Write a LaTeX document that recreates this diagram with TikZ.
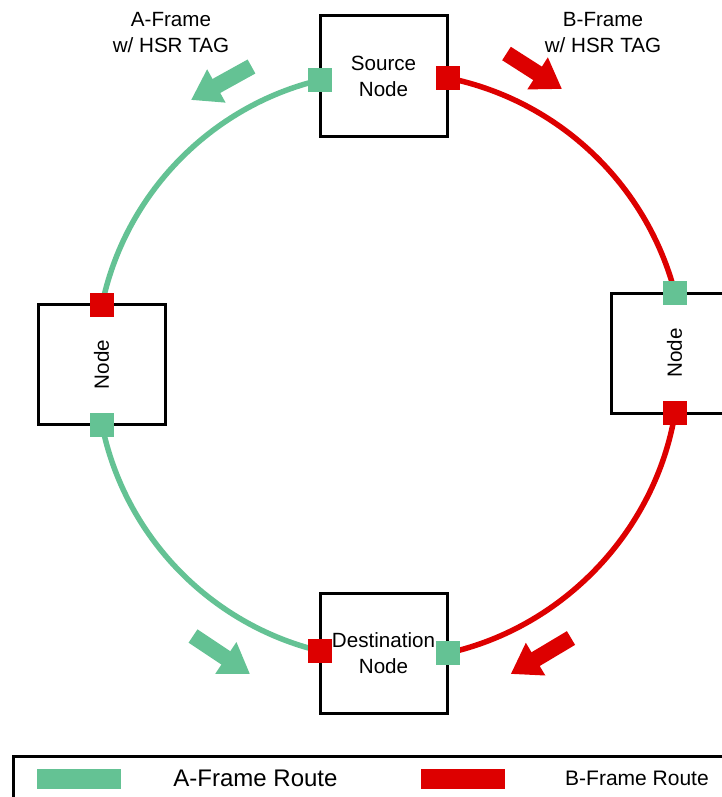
\documentclass[tikz,border=0pt]{standalone}
\usepackage{fontspec}
\setmainfont{Liberation Sans}
\usetikzlibrary{arrows.meta}
\definecolor{agreen}{RGB}{100,194,148}
\definecolor{bred}{RGB}{221,0,0}
\begin{document}
\begin{tikzpicture}[x=1pt,y=1pt,
  box/.style={draw=black, line width=3pt, fill=white, minimum width=127pt, minimum height=120pt, inner sep=0pt, align=center, font=\fontsize{20.6}{26}\selectfont},
  gport/.style={fill=agreen, minimum size=24pt, inner sep=0pt},
  rport/.style={fill=bred, minimum size=24pt, inner sep=0pt},
  garc/.style={draw=agreen, line width=5.5pt, looseness=0.92},
  rarc/.style={draw=bred, line width=5.5pt, looseness=0.92},
  blockarrow/.style={line width=16pt, -{Triangle[length=29pt,width=36pt]}},
  lbl/.style={font=\fontsize{20.6}{26}\selectfont, align=center, inner sep=0pt}
]
\useasboundingbox (0,-797) rectangle (722,0);
\clip (0,-797) rectangle (722,0);

% boxes
\node[box] (src) at (383.5,-76) {Source\\Node};
\node[box] (dst) at (383.5,-653) {Destination\\Node};
\node[box, rotate=90, minimum width=120pt, minimum height=127pt] (lnode) at (101.5,-364.5) {Node};
\node[box, rotate=90, minimum width=120pt, minimum height=127pt] (rnode) at (674.5,-353) {Node};

% port positions
\coordinate (sG) at (320,-80);
\coordinate (sR) at (448,-78);
\coordinate (lR) at (102,-305);
\coordinate (lG) at (102,-425);
\coordinate (rG) at (675,-293);
\coordinate (rR) at (675,-413);
\coordinate (dR) at (320,-651);
\coordinate (dG) at (448,-653);

% ring arcs
\draw[garc] (sG) to[bend right=32.5] (lR);
\draw[garc] (lG) to[bend right=32.5] (dR);
\draw[rarc] (rG) to[bend right=32] (sR);
\draw[rarc] (dG) to[bend right=34] (rR);

% ports
\node[gport] (psG) at (sG) {};
\node[rport] (psR) at (sR) {};
\node[rport] (plR) at (lR) {};
\node[gport] (plG) at (lG) {};
\node[gport] (prG) at (rG) {};
\node[rport] (prR) at (rR) {};
\node[rport] (pdR) at (dR) {};
\node[gport] (pdG) at (dG) {};

% direction arrows
\draw[blockarrow, agreen] (251.5,-66.5) -- (191,-100);
\draw[blockarrow, bred] (506.5,-53.5) -- (562,-89);
\draw[blockarrow, agreen] (193,-636) -- (250,-674);
\draw[blockarrow, bred] (571,-638) -- (510.7,-674);

% annotations
\node[lbl] (alab) at (171,-33) {A-Frame\\w/ HSR TAG};
\node[lbl] (blab) at (603,-33) {B-Frame\\w/ HSR TAG};

% legend
\draw[line width=3pt] (13,-756) rectangle (740,-830);
\fill[agreen] (37,-769) rectangle (121,-789);
\fill[bred] (421,-769) rectangle (505,-789);
\node[inner sep=0pt, font=\fontsize{24}{28}\selectfont] (leg1) at (255.5,-778) {A-Frame Route};
\node[inner sep=0pt, font=\fontsize{21}{25}\selectfont] (leg2) at (637,-778) {B-Frame Route};
\end{tikzpicture}
\end{document}
